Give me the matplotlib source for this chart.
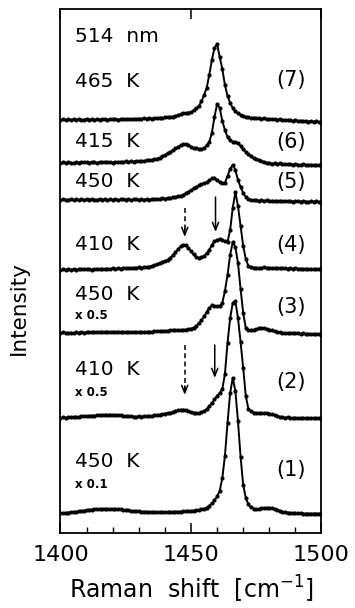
import numpy as np
import matplotlib
matplotlib.use('Agg')
import matplotlib.pyplot as plt

# Raman spectra, 514 nm excitation, one point per wavenumber
raman_shift = np.arange(1400, 1501)

trace_1 = [0, 0, 0.2, 0.4, 0.6, 0.9, 1.2, 1.6, 2.0, 2.4,
           2.8, 3.1, 3.4, 3.6, 3.8, 3.9, 4.0, 4.1, 4.1, 4.1,
           4.0, 3.9, 3.7, 3.5, 3.2, 2.9, 2.6, 2.3, 2.0, 1.8,
           1.6, 1.4, 1.3, 1.2, 1.1, 1.0, 1.0, 1.0, 1.0, 1.0,
           1.0, 1.0, 1.1, 1.1, 1.2, 1.3, 1.4, 1.5, 1.7, 1.9,
           2.1, 2.4, 2.7, 3.0, 3.5, 4.2, 5.4, 7.2, 9.5, 12.5,
           16.5, 22, 35, 57, 90, 120, 135, 122, 92, 56,
           28, 15, 8.5, 5.5, 4.2, 3.8, 4.0, 4.5, 5.0, 5.2,
           5.0, 4.5, 3.8, 2.9, 2.0, 1.3, 0.8, 0.4, 0.1, 0.0,
           -0.2, -0.4, -0.5, -0.6, -0.6, -0.6, -0.6, -0.6, -0.6, -0.6, -0.6]

trace_2 = [0.0, 0.5, 0.2, 0.8, 0.6, 1.0, 1.2, 1.0, 1.6, 1.8,
           1.5, 2.0, 2.4, 2.2, 2.8, 2.6, 3.0, 3.3, 2.9, 3.4,
           3.1, 3.0, 2.6, 2.8, 2.2, 2.0, 1.6, 1.9, 1.4, 1.2,
           1.5, 1.3, 1.6, 1.8, 2.2, 2.0, 2.6, 3.0, 3.4, 3.9,
           4.3, 4.8, 5.3, 6.0, 6.8, 7.6, 8.2, 8.4, 8.0, 7.0,
           5.9, 5.2, 4.8, 4.9, 5.6, 7.0, 9.0, 11.5, 15.0, 18.5,
           22, 25, 29, 44, 75, 100, 115, 117, 100, 76,
           50, 22, 9.0, 6.5, 5.2, 4.8, 4.6, 4.8, 5.0, 4.9,
           4.4, 3.6, 2.8, 2.0, 1.2, 0.8, 0.4, 0.6, 0.2, 0.0,
           0.3, -0.2, 0.1, -0.3, 0.0, -0.4, -0.1, -0.5, -0.2, -0.4, -0.3]

trace_3 = [0.0, 0.6, 0.2, -0.2, 0.4, 0.0, 0.5, 0.1, 0.6, 0.3,
           0.8, 0.5, 1.0, 0.6, 1.1, 0.8, 1.2, 1.0, 1.3, 0.9,
           1.2, 1.0, 1.3, 0.9, 1.1, 0.8, 1.2, 0.9, 1.1, 0.7,
           1.0, 0.8, 1.1, 1.0, 1.4, 1.2, 1.6, 1.5, 1.9, 1.8,
           2.2, 2.3, 2.5, 2.6, 2.8, 2.9, 3.0, 3.1, 3.4, 3.8,
           4.4, 5.3, 7.0, 9.5, 12.5, 16.5, 21, 25, 27.5, 27,
           26.5, 27, 30, 42, 58, 78, 91, 86, 70, 44,
           20, 5, 2.5, 3.0, 3.2, 3.8, 4.5, 5.0, 4.8, 4.2,
           3.4, 2.6, 1.8, 1.2, 0.6, 0.4, 0.0, 0.2, -0.3, 0.0,
           -0.5, -0.3, -0.8, -0.5, -1.0, -0.8, -1.2, -1.0, -1.5, -1.3, -1.6]

trace_4 = [0.0, 0.8, 0.3, 1.0, 0.4, 0.9, 0.2, 0.7, 0.5, 1.1,
           0.6, 1.0, 0.4, 0.9, 1.3, 0.7, 1.2, 0.8, 1.4, 1.0,
           1.5, 1.1, 1.6, 1.3, 1.9, 1.5, 2.0, 1.8, 2.3, 2.0,
           2.6, 2.4, 2.8, 3.0, 3.3, 3.8, 4.6, 5.5, 6.6, 7.8,
           9.0, 10.2, 12, 14.5, 17.5, 20.5, 23.5, 25, 24.5, 22,
           18.5, 15.5, 13, 12, 12.5, 14, 16.5, 20, 25, 28.5,
           30, 31, 30, 28.5, 28, 40, 62, 78, 64, 44,
           24, 11, 4, 2.5, 2.0, 2.4, 1.8, 2.2, 2.6, 2.0,
           2.4, 1.8, 2.1, 1.6, 2.0, 1.5, 1.9, 1.4, 1.7, 1.2,
           1.6, 1.1, 1.4, 0.9, 1.3, 0.8, 1.2, 0.7, 1.0, 0.6, 0.9]

trace_5 = [0.0, 0.6, -0.2, 0.4, 0.8, 0.1, 0.5, -0.1, 0.6, 0.2,
           0.7, 0.3, 0.9, 0.4, 0.2, 0.8, 0.3, 0.6, 0.0, 0.5,
           0.2, 0.7, 0.1, 0.5, 0.9, 0.3, 0.6, 0.1, 0.5, 0.8,
           0.2, 0.6, 0.3, 0.8, 0.4, 1.0, 0.7, 1.2, 1.0, 1.5,
           1.4, 1.9, 2.0, 2.6, 3.0, 3.6, 4.3, 5.2, 6.5, 8.0,
           9.8, 11.5, 13, 14.5, 15.5, 16.5, 17.5, 19.5, 21.5, 22,
           19.5, 18, 17, 17, 24, 31, 35, 30, 20, 13,
           7, 3, 0.8, 0.0, -0.5, 0.0, -0.8, -0.3, -1.0, -0.5,
           -1.2, -0.6, -1.0, -1.4, -0.8, -1.3, -0.9, -1.5, -1.0, -1.6,
           -1.2, -1.4, -1.8, -1.2, -1.6, -1.9, -1.3, -1.7, -1.5, -2.0, -1.6]

trace_6 = [0.0, 0.7, 0.2, 0.9, 0.4, 0.0, 0.8, 0.3, 1.0, 0.5,
           0.9, 0.4, 1.1, 0.6, 0.2, 0.9, 0.5, 1.2, 0.7, 1.0,
           0.4, 1.1, 0.8, 1.3, 0.9, 1.5, 1.1, 1.7, 1.4, 2.0,
           1.6, 2.2, 2.0, 2.6, 2.5, 3.2, 3.6, 4.4, 5.2, 6.5,
           8.0, 9.5, 11, 12.5, 14.5, 16, 17.5, 18.5, 18.5, 17.5,
           16, 15, 14.5, 14, 14, 15, 17.5, 21, 30, 46,
           59, 55, 42, 33, 26, 22.5, 21, 20.5, 20, 17,
           14, 11, 8.5, 6.5, 4.8, 3.5, 2.5, 1.6, 1.0, 0.3,
           -0.2, -0.6, -0.2, -1.0, -0.5, -1.2, -0.8, -1.5, -1.0, -1.8,
           -1.3, -1.6, -2.0, -1.4, -1.9, -2.2, -1.6, -2.1, -1.8, -2.3, -2.0]

trace_7 = [0.0, 0.6, -0.2, 0.5, 0.1, 0.8, 0.2, 0.6, -0.1, 0.4,
           0.9, 0.3, 0.7, 0.1, 0.8, 0.4, 1.0, 0.5, 0.2, 0.9,
           0.6, 1.0, 0.4, 0.8, 1.2, 0.6, 1.1, 0.7, 1.3, 0.9,
           1.4, 1.0, 1.5, 1.2, 1.8, 1.4, 2.0, 1.7, 2.3, 2.1,
           2.6, 2.5, 3.0, 3.4, 4.0, 4.6, 5.6, 6.6, 7.0, 7.4,
           8.0, 9.5, 11.5, 14, 18.5, 25, 32, 45, 60, 72,
           76, 63, 51, 35, 24, 17, 12, 8.5, 6.5, 5.0,
           4.0, 3.2, 2.8, 2.0, 2.4, 1.6, 1.9, 1.2, 1.5, 0.8,
           1.1, 0.5, 0.9, 0.2, 0.6, -0.2, 0.3, -0.5, 0.0, -0.8,
           -0.3, -1.0, -0.6, -1.3, -0.9, -1.6, -1.1, -1.8, -1.4, -2.2, -2.5]

traces = [trace_1, trace_2, trace_3, trace_4, trace_5, trace_6, trace_7]
offsets = [20, 115, 200, 263, 333, 370, 413]

temperatures = ['450  K', '410  K', '450  K', '410  K', '450  K', '415  K', '465  K']
scale_notes = ['x 0.1', 'x 0.5', 'x 0.5', '', '', '', '']
trace_numbers = ['(1)', '(2)', '(3)', '(4)', '(5)', '(6)', '(7)']

# text anchors (shift, height) for each trace
temp_label_y = [71, 163, 238, 288, 351, 391, 451]
scale_label_y = [48, 140, 217]
number_label_y = [63, 151, 226, 288, 351, 391, 453]

# arrows marking the 1448 and 1460 bands in traces (4) and (2)
arrow_x = [1447.6, 1459.4, 1447.6, 1459.1]
arrow_top = [325, 336, 188, 188]
arrow_tip = [296, 301, 138, 155]
arrow_dashed = [True, False, True, False]


def draw_arrow(ax, x, top, tip, dashed):
    head = dict(arrowstyle='->,head_length=0.55,head_width=0.22', color='black',
                lw=1.1, shrinkA=0, shrinkB=0)
    if dashed:
        ax.plot([x, x], [top, tip + 2], color='black', lw=1.1,
                linestyle=(0, (3.2, 2.2)), solid_capstyle='butt')
        ax.annotate('', xy=(x, tip), xytext=(x, tip + 9), arrowprops=head)
    else:
        ax.annotate('', xy=(x, tip), xytext=(x, top), arrowprops=head)


def plot_spectra():
    fig = plt.figure(figsize=(3.55, 6.08), dpi=100)
    ax = fig.add_axes([0.1704, 0.1234, 0.7352, 0.8618])

    for values, offset in zip(traces, offsets):
        y = np.array(values) + offset
        ax.plot(raman_shift, y, '-', color='black', lw=1.4,
                marker='o', markersize=3.0, markeredgewidth=0)

    for x, top, tip, dashed in zip(arrow_x, arrow_top, arrow_tip, arrow_dashed):
        draw_arrow(ax, x, top, tip, dashed)

    ax.text(1405.5, 496, '514  nm', fontsize=14.5, va='center', ha='left')
    for label, y in zip(temperatures, temp_label_y):
        ax.text(1405.5, y, label, fontsize=14.5, va='center', ha='left')
    for label, y in zip(scale_notes, scale_label_y):
        ax.text(1405.6, y, label, fontsize=8.5, fontweight='bold', va='center', ha='left')
    for label, y in zip(trace_numbers, number_label_y):
        ax.text(1488.2, y, label, fontsize=15, va='center', ha='center')

    ax.set_xlim(1400, 1500)
    ax.set_ylim(0, 524)
    ax.set_xticks([1400, 1450, 1500])
    ax.set_xticks(np.arange(1410, 1500, 10), minor=True)
    ax.set_yticks([])
    ax.tick_params(axis='x', which='major', direction='in', length=7, width=1.1,
                   top=True, labelsize=16, pad=9)
    ax.tick_params(axis='x', which='minor', direction='in', length=4, width=1.0,
                   top=False, bottom=True)
    for spine in ax.spines.values():
        spine.set_linewidth(1.3)

    ax.set_xlabel('Raman  shift  [cm$^{-1}$]', fontsize=17, labelpad=6)
    ax.set_ylabel('Intensity', fontsize=15.5)
    ax.yaxis.set_label_coords(-0.12, 0.43)

    plt.savefig('out.png', dpi=100)


if __name__ == '__main__':
    plot_spectra()
